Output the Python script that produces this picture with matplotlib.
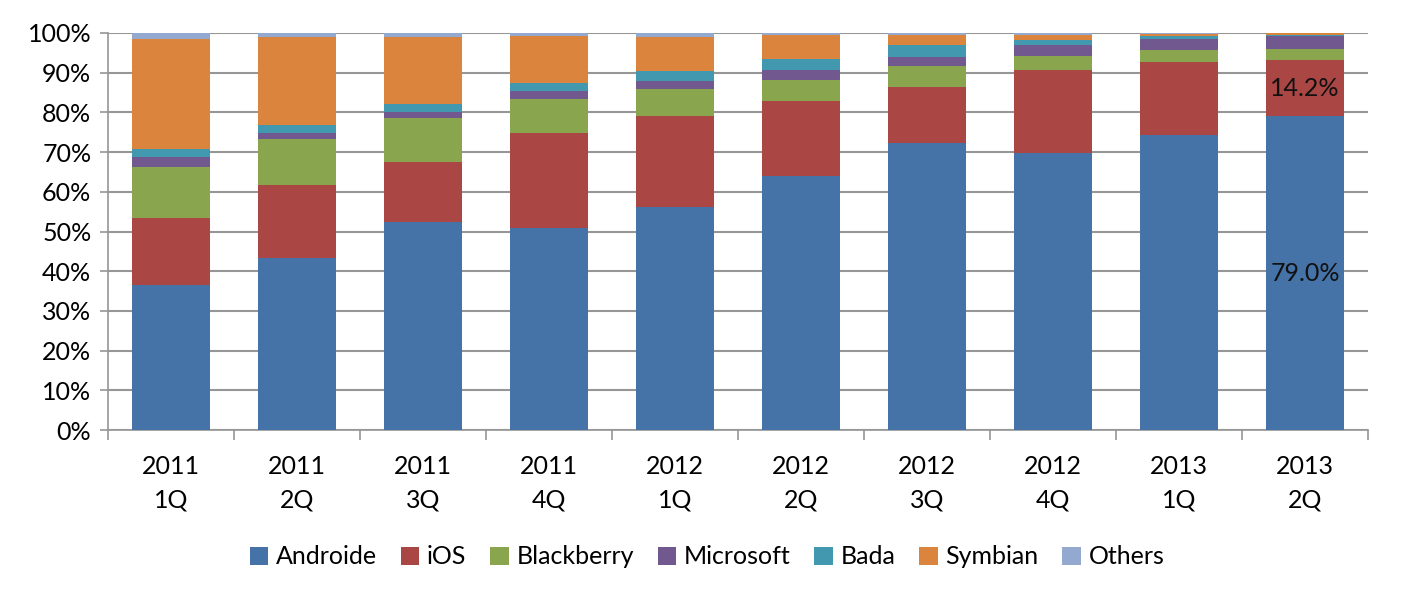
import matplotlib
matplotlib.use("Agg")
import matplotlib.pyplot as plt
import numpy as np

categories = ["2011\n1Q", "2011\n2Q", "2011\n3Q", "2011\n4Q", "2012\n1Q",
              "2012\n2Q", "2012\n3Q", "2012\n4Q", "2013\n1Q", "2013\n2Q"]
series_names = ["Androide", "iOS", "Blackberry", "Microsoft", "Bada", "Symbian", "Others"]
androide   = [36.4, 43.4, 52.5, 50.9, 56.1, 64.1, 72.4, 69.7, 74.4, 79.0]
ios        = [16.9, 18.2, 15.0, 23.8, 22.9, 18.8, 13.9, 20.9, 18.2, 14.2]
blackberry = [12.9, 11.7, 11.0, 8.8, 6.9, 5.2, 5.3, 3.5, 3.0, 2.7]
microsoft  = [2.6, 1.6, 1.5, 1.9, 1.9, 2.7, 2.4, 3.0, 2.9, 3.3]
bada       = [1.9, 1.9, 2.2, 2.1, 2.7, 2.7, 3.0, 1.2, 0.7, 0.4]
symbian    = [27.7, 22.1, 16.9, 11.7, 8.6, 5.9, 2.6, 1.2, 0.6, 0.3]
others     = [1.6, 1.1, 0.9, 0.8, 0.9, 0.6, 0.4, 0.5, 0.2, 0.1]
colors = ["#4572A7", "#AA4643", "#89A54E", "#71588F", "#4198AF", "#DB843D", "#93A9CF"]

plt.rcParams['font.family'] = ['Lato', 'DejaVu Sans']
FS = 18
fig = plt.figure(figsize=(14.02, 6.02), dpi=100)
ax = fig.add_axes([108/1402, 1 - 430/602, (1368-108)/1402, (430-33)/602])

data = [androide, ios, blackberry, microsoft, bada, symbian, others]
x = np.arange(len(categories))
bottom = np.zeros(len(categories))
handles = []
for name, vals, c in zip(series_names, data, colors):
    vals = np.array(vals, dtype=float)
    b = ax.bar(x, vals, 0.62, bottom=bottom, color=c, label=name, zorder=3)
    handles.append(b)
    bottom += vals

# data labels on last bar
last = len(categories) - 1
ax.text(x[last], androide[last] / 2, f"{androide[last]:.1f}%", ha="center", va="center",
        fontsize=FS, color="#111111", zorder=4)
ax.text(x[last], androide[last] + ios[last] / 2, f"{ios[last]:.1f}%", ha="center", va="center",
        fontsize=FS, color="#111111", zorder=4)

ax.set_ylim(0, 100)
ax.set_xlim(-0.5, len(categories) - 0.5)
ax.set_yticks(np.arange(0, 101, 10))
ax.set_yticklabels([f"{v}%" for v in range(0, 101, 10)], fontsize=FS)
ax.yaxis.grid(True, color="#969696", linewidth=1.5, zorder=0)
ax.set_axisbelow(True)

ax.set_xticks(np.arange(-0.5, len(categories), 1.0))
ax.set_xticklabels([])
ax.set_xticks(x, minor=True)
ax.set_xticklabels(categories, minor=True, fontsize=FS, linespacing=1.55)
ax.tick_params(axis="x", which="minor", length=0, pad=18)
ax.tick_params(axis="x", which="major", length=7, color="#969696", width=1.2)
ax.tick_params(axis="y", length=6, color="#969696", width=1.2, pad=6)

for s in ["top", "right"]:
    ax.spines[s].set_visible(False)
for s in ["left", "bottom"]:
    ax.spines[s].set_color("#969696")
    ax.spines[s].set_linewidth(1.2)

fig.legend(handles=handles, labels=series_names, loc="center", ncol=7,
           bbox_to_anchor=(707/1402, 1 - 557/602), frameon=False, fontsize=FS,
           handlelength=0.75, handleheight=0.75, handletextpad=0.3, columnspacing=0.95)

fig.savefig("out.png", dpi=100)
